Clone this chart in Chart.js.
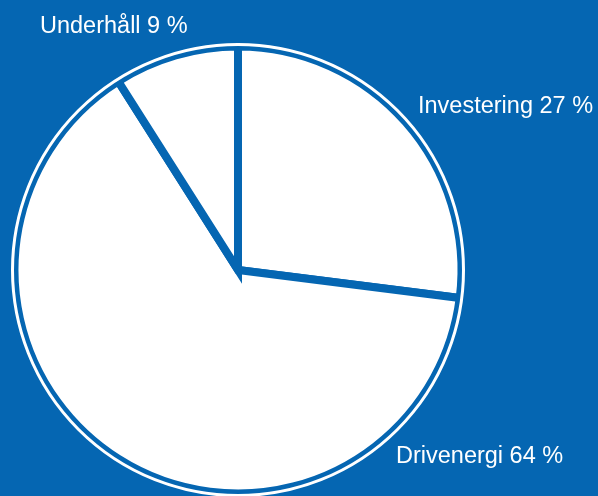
<!DOCTYPE html>
<html lang="sv">
<head>
<meta charset="utf-8">
<title>Kostnadsfördelning</title>
<script src="https://cdn.jsdelivr.net/npm/chart.js@4/dist/chart.umd.min.js"></script>
<style>
  html, body { margin: 0; padding: 0; background: #0566b2; }
  #wrap { width: 598px; height: 496px; position: relative; }
</style>
</head>
<body>
<div id="wrap"><canvas id="pie" width="598" height="496"></canvas></div>
<script>
const categories = ["Investering", "Drivenergi", "Underhåll"];
const shares = [27, 64, 9];

const BLUE = "#0566b2";

// thin white circle just outside the pie
const outerRing = {
  id: "outerRing",
  afterDatasetsDraw(chart) {
    const arc = chart.getDatasetMeta(0).data[0];
    if (!arc) return;
    const ctx = chart.ctx;
    ctx.save();
    ctx.beginPath();
    ctx.arc(arc.x, arc.y, arc.outerRadius + 2, 0, Math.PI * 2);
    ctx.strokeStyle = "#ffffff";
    ctx.lineWidth = 3;
    ctx.stroke();
    ctx.restore();
  }
};

// category + share labels placed around the pie
const sliceLabels = {
  id: "sliceLabels",
  afterDraw(chart, args, opts) {
    const ctx = chart.ctx;
    ctx.save();
    ctx.fillStyle = "#ffffff";
    ctx.font = opts.font;
    ctx.textAlign = "left";
    ctx.textBaseline = "alphabetic";
    categories.forEach((name, i) => {
      const p = opts.anchors[i];
      ctx.fillText(name + " " + shares[i] + " %", p.x, p.y);
    });
    ctx.restore();
  }
};

const bgFill = {
  id: "bgFill",
  beforeDraw(chart) {
    const ctx = chart.ctx;
    ctx.save();
    ctx.fillStyle = BLUE;
    ctx.fillRect(0, 0, chart.width, chart.height);
    ctx.restore();
  }
};

new Chart(document.getElementById("pie"), {
  type: "pie",
  data: {
    labels: categories,
    datasets: [
      {
        data: shares,
        backgroundColor: "#ffffff",
        borderColor: BLUE,
        borderWidth: 8,
        borderJoinStyle: "miter",
        hoverOffset: 0
      }
    ]
  },
  options: {
    responsive: false,
    animation: false,
    radius: 223.5,
    layout: { padding: { left: 0, right: 122, top: 44, bottom: 0 } },
    events: [],
    plugins: {
      legend: { display: false },
      tooltip: { enabled: false },
      sliceLabels: {
        font: "23.5px 'Liberation Sans', Arial, sans-serif",
        anchors: [
          { x: 418, y: 113 },
          { x: 396, y: 463 },
          { x: 40, y: 33 }
        ]
      }
    }
  },
  plugins: [bgFill, outerRing, sliceLabels]
});
</script>
</body>
</html>
